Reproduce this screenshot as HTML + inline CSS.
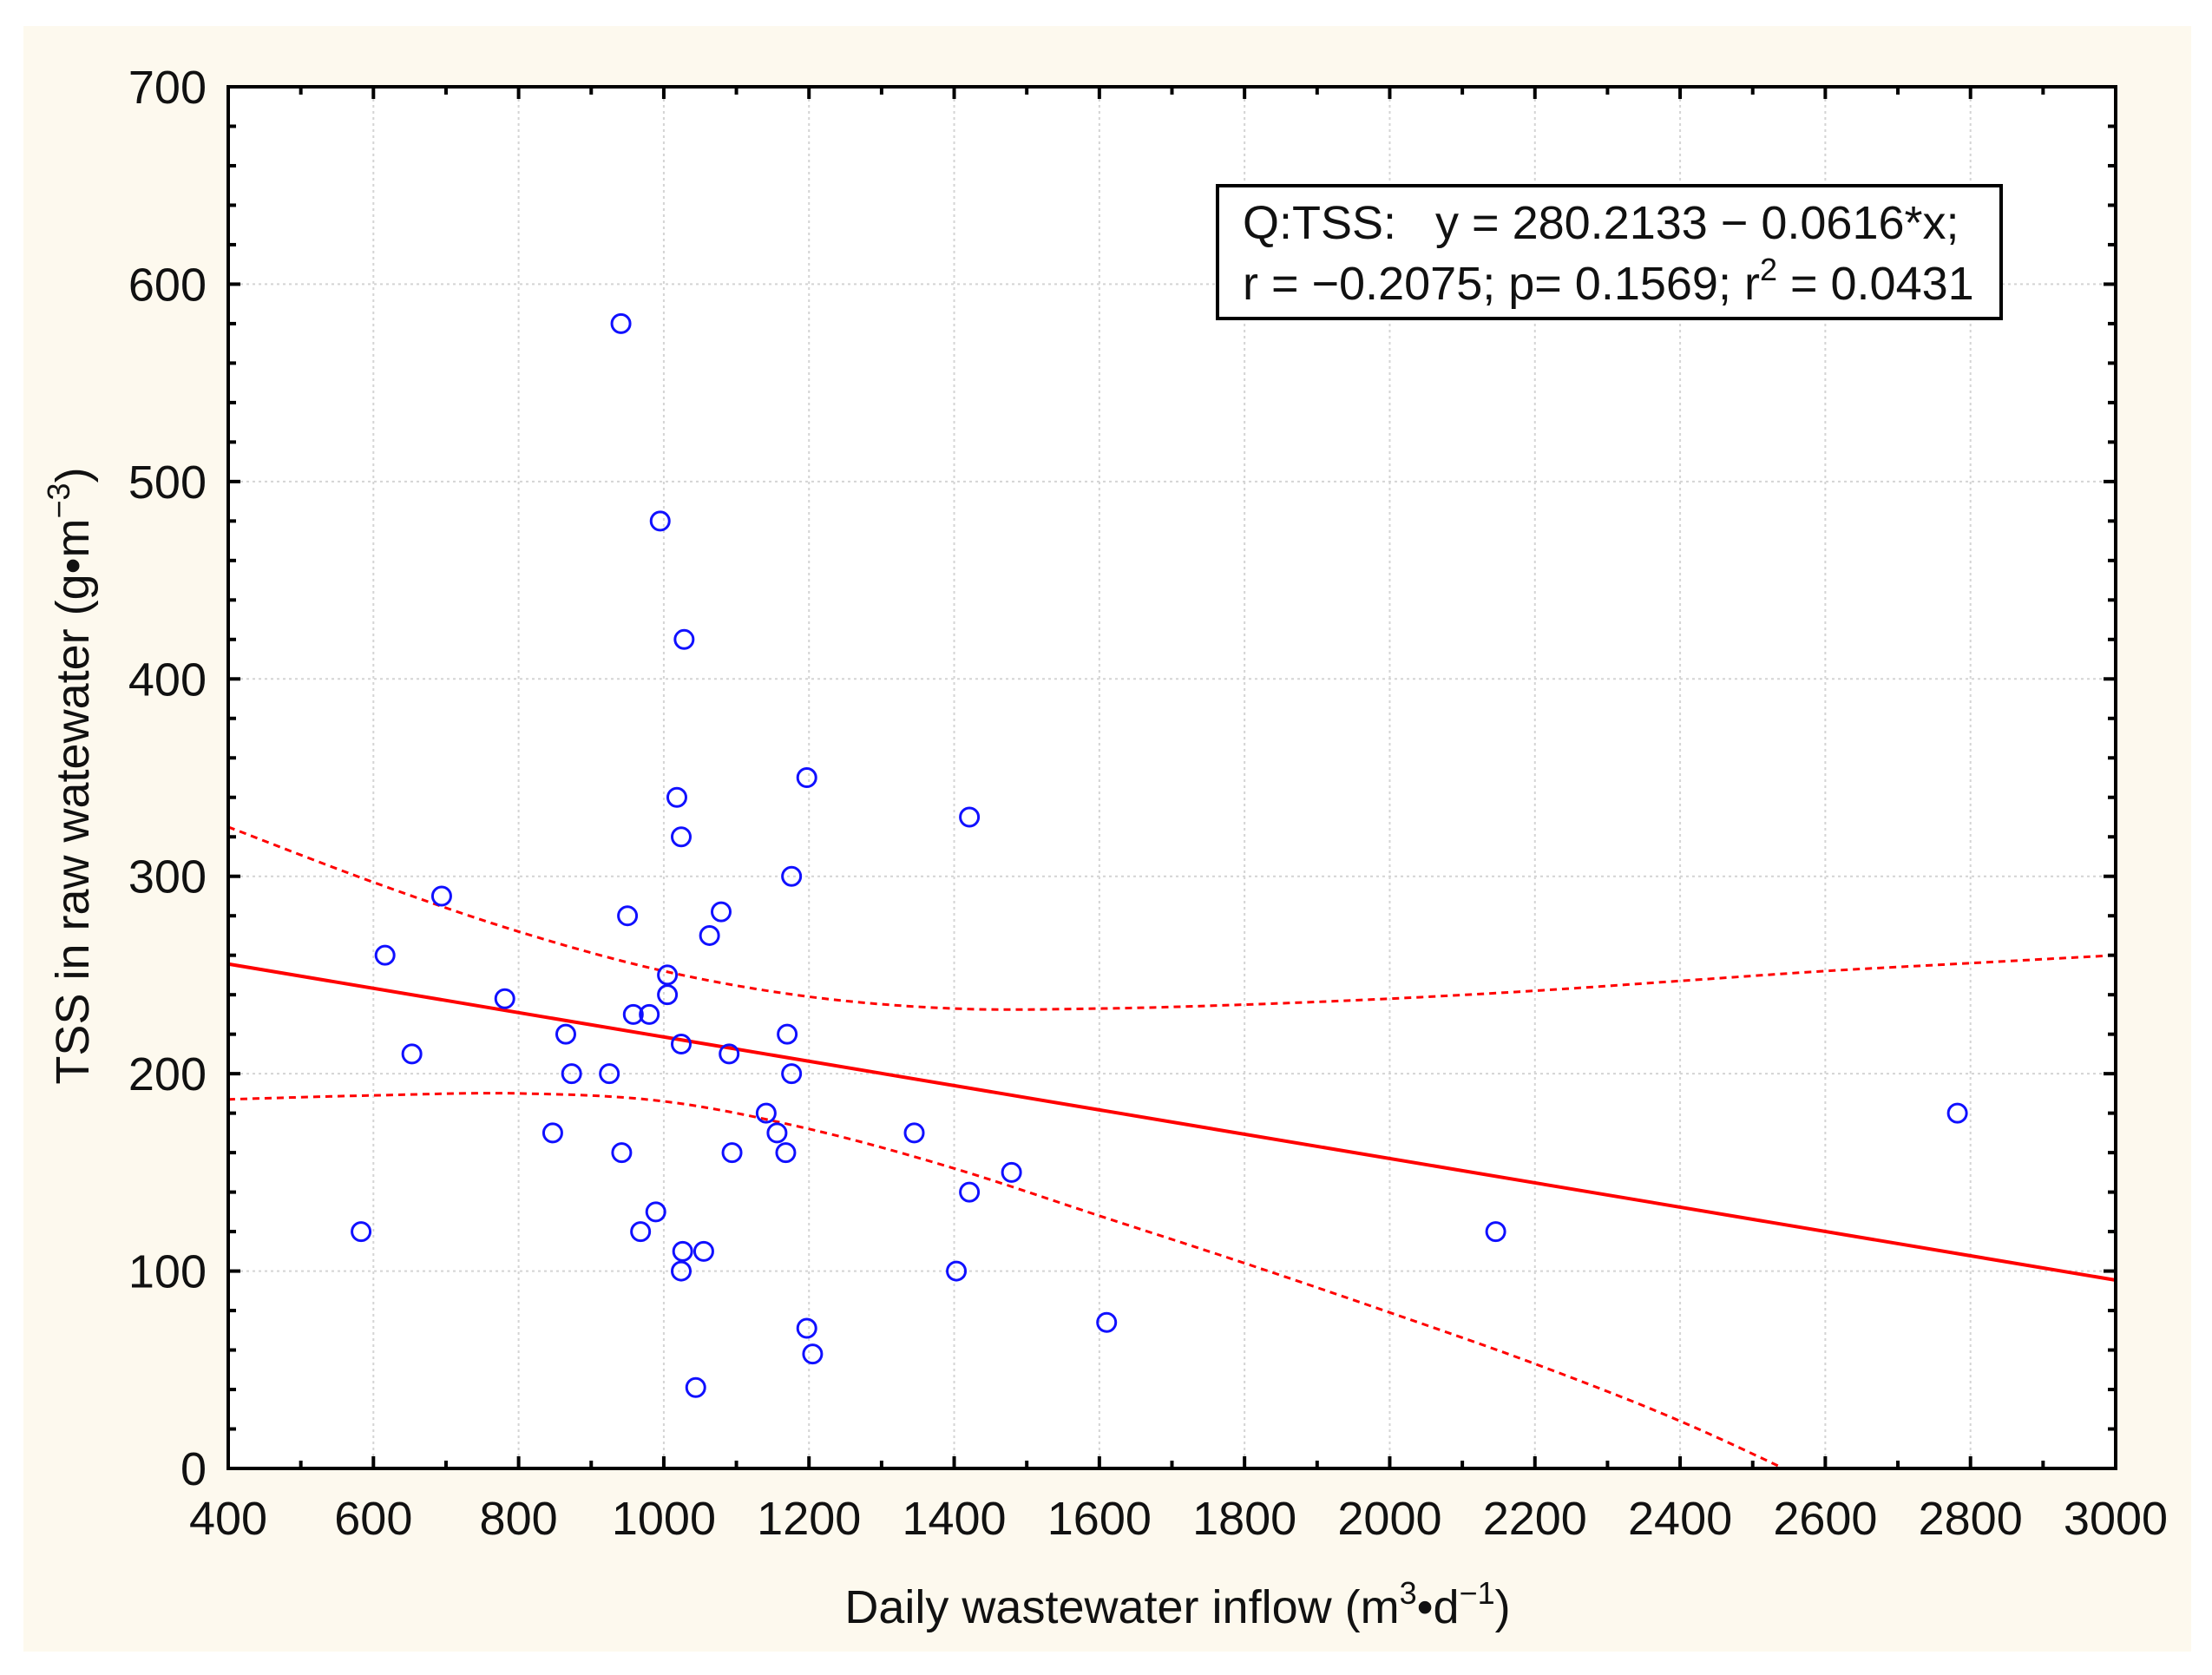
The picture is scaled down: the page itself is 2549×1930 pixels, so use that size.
<!DOCTYPE html>
<html><head><meta charset="utf-8"><style>
html,body{margin:0;padding:0;background:#fff;}
svg{display:block;font-family:"Liberation Sans",Arial,sans-serif;}
</style></head><body>
<svg id="chart" width="2549" height="1930" viewBox="0 0 2549 1930" xmlns="http://www.w3.org/2000/svg">
<rect x="27" y="30" width="2498" height="1873" fill="#fdf9ee"/>
<rect x="263" y="100" width="2175" height="1592" fill="#fff"/>
<g id="grid"></g>
<g id="bands"></g>
<g id="fit"></g>
<g id="points"></g>
<rect x="263" y="100" width="2175" height="1592" fill="none" stroke="#000" stroke-width="4"/>
<g id="ticks"></g>
<g>
<rect x="1403" y="214" width="903" height="153" fill="#fff" stroke="#000" stroke-width="4"/>
<text x="1432" y="275" font-size="54" fill="#111" xml:space="preserve">Q:TSS:   y = 280.2133 − 0.0616*x;</text>
<text x="1432" y="345" font-size="54" fill="#111">r = −0.2075; p= 0.1569; r<tspan dy="-22" font-size="36">2</tspan><tspan dy="22"> = 0.0431</tspan></text>
</g>
<text x="1357" y="1870" font-size="54" text-anchor="middle" fill="#111">Daily wastewater inflow (m<tspan dy="-22" font-size="36">3</tspan><tspan dy="22">•d</tspan><tspan dy="-22" font-size="36">−1</tspan><tspan dy="22">)</tspan></text>
<text transform="translate(102,894) rotate(-90)" font-size="54" text-anchor="middle" fill="#111">TSS in raw watewater (g•m<tspan dy="-22" font-size="36">−3</tspan><tspan dy="22">)</tspan></text>
</svg>
<script>
const xs = [941,995,1028,1197,1421,1018,1024,1176,694,950,1079,1063,616,1005,1005,781,958,980,865,1170,1024,653,1090,873,925,1176,1141,2782,847,1156,1345,942,1094,1168,1479,1421,989,583,968,2146,1026,1055,1024,1403,1197,1610,1205,1044];
const ys = [580,480,420,350,330,340,320,300,290,280,282,270,260,250,240,238,230,230,220,220,215,210,210,200,200,200,180,180,170,170,170,160,160,160,150,140,130,120,120,120,110,110,100,100,71,74,58,41];
const xTicks = [400,600,800,1000,1200,1400,1600,1800,2000,2200,2400,2600,2800,3000];
const yTicks = [0,100,200,300,400,500,600,700];
const bandX = [400,600,800,1000,1200,1400,1600,1800,2000,2200,2400,2600,2800,3000];
const upperBand = [325,297,272,252,239,233,233,235,238,242,247,252,256,260];
const lowerBand = [187,189,190,186,172,152,128,104,79,53,24,-10,-45,-80];
const intercept = 280.2133;
const slope = -0.0616;

const NS="http://www.w3.org/2000/svg";
const X0=263,X1=2438,Y0=1692,Y1=100;
const sx=v=>X0+(v-400)/2600*(X1-X0);
const sy=v=>Y0-v/700*(Y0-Y1);
function mk(tag,attrs,parent){const e=document.createElementNS(NS,tag);for(const k in attrs)e.setAttribute(k,attrs[k]);parent.appendChild(e);return e;}
const grid=document.getElementById('grid'),ticks=document.getElementById('ticks');
xTicks.forEach(v=>{
  const gl=mk('line',{x1:sx(v),x2:sx(v),y1:Y1,y2:Y0,stroke:'#d4d4d4','stroke-width':2,'stroke-dasharray':'3,4'},grid);
  
  
  const t=mk('text',{x:sx(v),y:1768,'font-size':54,'text-anchor':'middle',fill:'#111'},ticks);
  t.textContent=v;
  
  
});
for(let v=400;v<=3000;v+=100){
  const len=(v%200===0)?14:9;
  mk('line',{x1:sx(v),x2:sx(v),y1:Y0,y2:Y0-len,stroke:'#000','stroke-width':4},ticks);
  mk('line',{x1:sx(v),x2:sx(v),y1:Y1,y2:Y1+len,stroke:'#000','stroke-width':4},ticks);
}
yTicks.forEach(v=>{
  const gl=mk('line',{x1:X0,x2:X1,y1:sy(v),y2:sy(v),stroke:'#d4d4d4','stroke-width':2,'stroke-dasharray':'3,4'},grid);
  
  
  const t=mk('text',{x:238,y:sy(v)+19,'font-size':54,'text-anchor':'end',fill:'#111'},ticks);
  t.textContent=v;
  
  
});
for(let v=0;v<=700;v+=20){
  const len=(v%100===0)?14:9;
  mk('line',{x1:X0,x2:X0+len,y1:sy(v),y2:sy(v),stroke:'#000','stroke-width':4},ticks);
  mk('line',{x1:X1,x2:X1-len,y1:sy(v),y2:sy(v),stroke:'#000','stroke-width':4},ticks);
}
const svg=document.getElementById('chart');
const defs=mk('defs',{},svg);
const cp=mk('clipPath',{id:'clip'},defs);
mk('rect',{x:X0,y:Y1,width:X1-X0,height:Y0-Y1},cp);
const bands=document.getElementById('bands');
bands.setAttribute('clip-path','url(#clip)');
function smoothPath(P){
  let d='M'+P[0][0]+','+P[0][1];
  for(let i=0;i<P.length-1;i++){
    const p0=P[i-1]||P[i],p1=P[i],p2=P[i+1],p3=P[i+2]||p2;
    const c1=[p1[0]+(p2[0]-p0[0])/6,p1[1]+(p2[1]-p0[1])/6];
    const c2=[p2[0]-(p3[0]-p1[0])/6,p2[1]-(p3[1]-p1[1])/6];
    d+=' C'+c1+' '+c2+' '+p2;
  }
  return d;
}
[upperBand,lowerBand].forEach((arr,i)=>{
  const P=bandX.map((x,j)=>[sx(x),sy(arr[j])]);
  const p=mk('path',{d:smoothPath(P),fill:'none',stroke:'#f00','stroke-width':3,'stroke-dasharray':'8,6'},bands);
  
  
});
const fit=document.getElementById('fit');
const fl=mk('line',{x1:sx(400),y1:sy(intercept+slope*400),x2:sx(3000),y2:sy(intercept+slope*3000),stroke:'#f00','stroke-width':4},fit);


const pg=document.getElementById('points');
xs.forEach((x,i)=>{
  const c=mk('circle',{cx:sx(x),cy:sy(ys[i]),r:10.5,fill:'none',stroke:'#1010ff','stroke-width':3},pg);
  
  
});
</script>
</body></html>
